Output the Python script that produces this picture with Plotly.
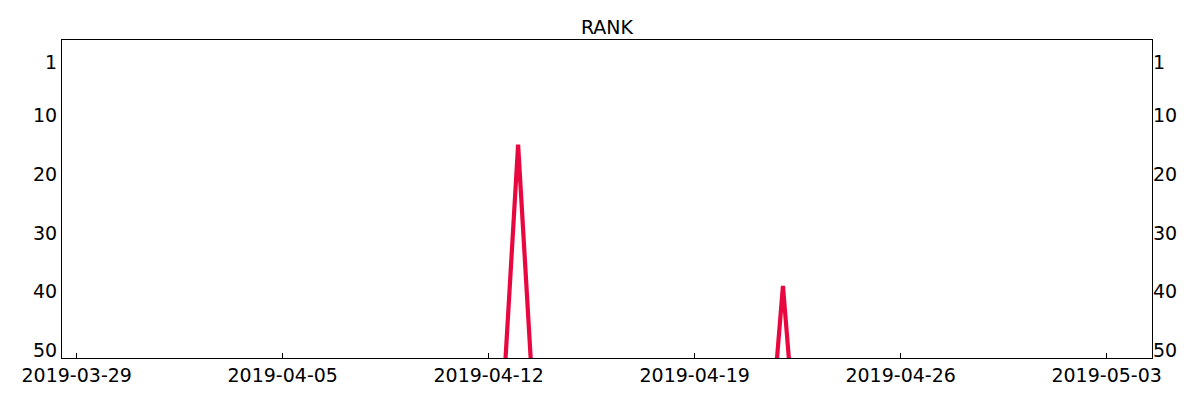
import plotly.graph_objects as go

dates = [
    "2019-03-29", "2019-03-30", "2019-03-31", "2019-04-01", "2019-04-02", "2019-04-03",
    "2019-04-04", "2019-04-05", "2019-04-06", "2019-04-07", "2019-04-08", "2019-04-09",
    "2019-04-10", "2019-04-11", "2019-04-12", "2019-04-13", "2019-04-14", "2019-04-15",
    "2019-04-16", "2019-04-17", "2019-04-18", "2019-04-19", "2019-04-20", "2019-04-21",
    "2019-04-22", "2019-04-23", "2019-04-24", "2019-04-25", "2019-04-26", "2019-04-27",
    "2019-04-28", "2019-04-29", "2019-04-30", "2019-05-01", "2019-05-02", "2019-05-03",
    "2019-05-04",
]
rank = [
    100, 100, 100, 100, 100, 100,
    100, 100, 100, 100, 100, 100,
    100, 100, 100, 15, 100, 100,
    100, 100, 100, 100, 100, 100,
    39, 100, 100, 100, 100, 100,
    100, 100, 100, 100, 100, 100,
    100,
]
x_ticks = ["2019-03-29", "2019-04-05", "2019-04-12", "2019-04-19", "2019-04-26", "2019-05-03"]
y_ticks = [1, 10, 20, 30, 40, 50]

FONT = "DejaVu Sans"
COLOR = "#e8073f"

fig = go.Figure()
fig.add_trace(go.Scatter(x=dates, y=rank, mode="lines",
                         line=dict(color=COLOR, width=4.2), hoverinfo="skip",
                         showlegend=False))
fig.add_trace(go.Scatter(x=dates, y=rank, mode="lines", yaxis="y2",
                         line=dict(color="rgba(0,0,0,0)", width=0), hoverinfo="skip",
                         showlegend=False))

yr = [51.24, -2.74]
fig.update_layout(
    width=1200, height=400,
    margin=dict(l=62, r=48, t=40, b=42, autoexpand=False),
    paper_bgcolor="white", plot_bgcolor="white",
    font=dict(family=FONT, size=19, color="black"),
    title=dict(text="RANK", x=0.5, xref="paper", xanchor="center",
               y=1 - 27 / 400, yref="container", yanchor="middle",
               font=dict(family=FONT, size=19, color="black")),
    xaxis=dict(type="date", range=["2019-03-28 12:00", "2019-05-04 13:00"],
               tickvals=x_ticks, tickformat="%Y-%m-%d", automargin=False,
               ticks="inside", ticklen=5, tickwidth=1, tickcolor="black",
               showline=True, linecolor="black", linewidth=1, mirror=True,
               showgrid=False, zeroline=False),
    yaxis=dict(range=yr, tickvals=y_ticks, ticks="", automargin=False,
               showline=True, linecolor="black", linewidth=1, mirror=True,
               showgrid=False, zeroline=False),
    yaxis2=dict(range=yr, tickvals=y_ticks, ticks="", overlaying="y", side="right",
                automargin=False,
                showline=False, showgrid=False, zeroline=False),
)

fig.write_html("out.html", config={"displayModeBar": False},
               post_script="document.body.style.margin='0';")
